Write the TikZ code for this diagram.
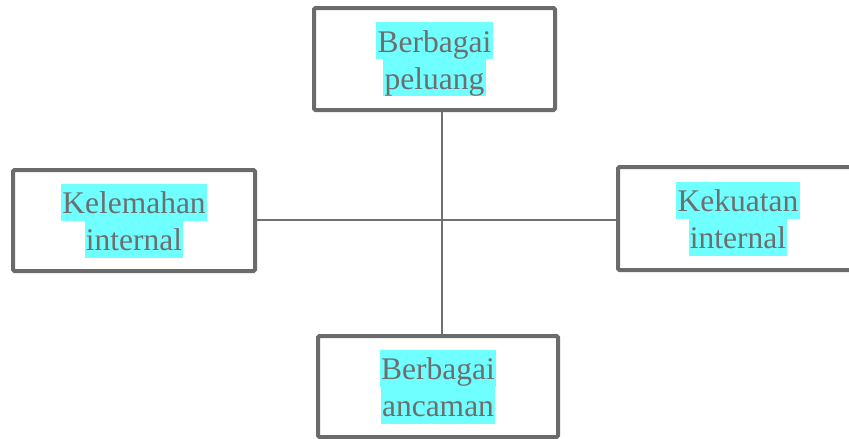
\documentclass[tikz,border=0pt]{standalone}
\usepackage{fontspec}
\setmainfont{Liberation Serif}
\definecolor{boxgray}{HTML}{6B6B6B}
\definecolor{linegray}{HTML}{707070}
\definecolor{txtgray}{HTML}{6E6E6E}
\definecolor{hlcyan}{HTML}{6FFFFF}
\begin{document}
\begin{tikzpicture}[x=1pt,y=-1pt,
  box/.style={draw=boxgray,line width=4pt,rounded corners=1.5pt,fill=white,inner sep=0pt,minimum width=#1},
  conn/.style={draw=linegray,line width=2pt},
  hl/.style={fill=hlcyan,text=txtgray,inner xsep=1.2pt,inner ysep=0pt,text height=30pt,text depth=7pt,font=\fontsize{31.5}{37}\selectfont}]
\useasboundingbox (0,0) rectangle (849,439);
\clip (0,0) rectangle (849,439);
\coordinate (vx) at (442,0);
\coordinate (hy) at (0,219.5);
\node[box=241pt,minimum height=102pt] (top) at (434.5,59) {};
\node[box=242pt,minimum height=101pt] (left) at (134,220.5) {};
\node[box=240pt,minimum height=103pt] (right) at (738,218.5) {};
\node[box=240pt,minimum height=101pt] (bot) at (438,386.5) {};
\draw[conn] (vx |- top.south) -- (vx |- bot.north);
\draw[conn] (left.east |- hy) -- (right.west |- hy);
\node[hl] (t1) at ([yshift=18.5pt]top.center) {Berbagai};
\node[hl] (t2) at ([yshift=-18.5pt]top.center) {peluang};
\node[hl] (l1) at ([yshift=18.5pt]left.center) {Kelemahan};
\node[hl] (l2) at ([yshift=-18.5pt]left.center) {internal};
\node[hl] (r1) at ([yshift=18.5pt]right.center) {Kekuatan};
\node[hl] (r2) at ([yshift=-18.5pt]right.center) {internal};
\node[hl] (b1) at ([yshift=18.5pt]bot.center) {Berbagai};
\node[hl] (b2) at ([yshift=-18.5pt]bot.center) {ancaman};
\end{tikzpicture}
\end{document}
